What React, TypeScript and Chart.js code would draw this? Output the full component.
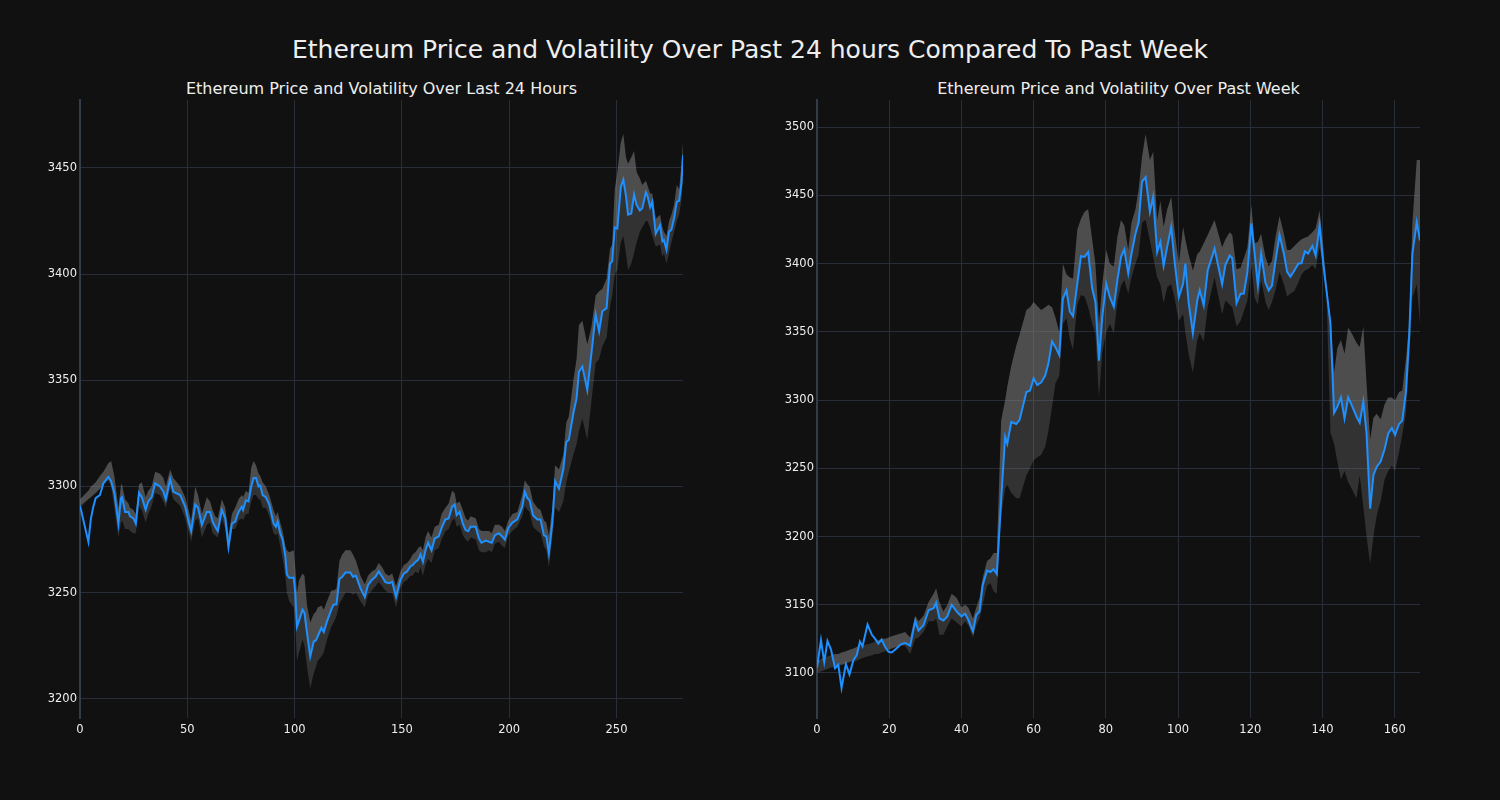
import React, { useEffect, useRef } from "react";
import { Chart, registerables } from "chart.js";
Chart.register(...registerables);

// ---------- Left: last 24 hours ----------
const leftX = [
  0, 3.9, 5.1, 6.2, 7.3, 9.3, 10.9, 13.2, 14.5, 16,
  17.9, 19.1, 19.6, 21, 22.6, 23.3, 24.9, 26, 27.5, 28.8,
  30.6, 31.8, 33.4, 35, 37.3, 38.9, 40, 42, 43.5, 46.7,
  49, 50.6, 51.8, 53.7, 55, 56.8, 59.1, 60.6, 61.8, 63,
  64.2, 66.1, 67.7, 69.2, 70.8, 72.3, 73.9, 75.4, 76, 77.3,
  78.5, 79.8, 80.9, 82, 83.2, 84, 85.1, 86.6, 88.2, 90.2,
  91.3, 92.1, 93.3, 94.4, 95.7, 96.4, 97.5, 99.6, 100.3, 101.1,
  102.1, 103.7, 104.6, 105.8, 107.3, 108.9, 109.9, 110.8, 112.5, 113.6,
  115.1, 117.1, 118.2, 119.5, 120.9, 122.2, 123.7, 126, 127.2, 128.6,
  130.7, 132.7, 134.2, 136, 137.7, 139.2, 140.8, 142.3, 143.9, 145.5,
  147.3, 149.3, 150.9, 152.4, 154, 155, 156.3, 157.6, 158.7, 159.8,
  161, 162.2, 163.8, 165.3, 167.2, 168.5, 170.3, 171.8, 173.4, 174.6,
  175.5, 176.9, 178.4, 179.7, 180.9, 182, 184.4, 185.9, 187.1, 189.1,
  190.6, 191.9, 193.3, 195.2, 196.7, 198, 199.6, 201.5, 203.8, 206.1,
  207.3, 208.5, 209.5, 211.1, 213.1, 214.6, 216.2, 217.3, 218.5, 220.1,
  221.4, 223.2, 225.2, 226.6, 227.8, 229.9, 231.4, 232.5, 234.1, 236.4,
  238.3, 240.3, 241.9, 243.4, 245.4, 247, 248, 249.2, 250.4, 252,
  253.2, 254.4, 255.4, 256.9, 258.2, 259.4, 260.9, 262, 263.7, 264.4,
  265.7, 266.7, 268.3, 270.3, 271.4, 272.1, 273.3, 274.5, 275.6, 276.9,
  278.1, 279.2, 280.3, 281,
];
const leftPrice = [
  3291, 3274, 3285, 3290.5, 3294.5, 3296, 3301.5, 3304.5, 3302.5, 3297,
  3282.5, 3294.5, 3295, 3288, 3288, 3286, 3285, 3282.5, 3297, 3295,
  3289, 3293, 3295, 3301.5, 3300, 3297.5, 3294, 3303.5, 3297.5, 3296,
  3290.5, 3283.5, 3279, 3291.5, 3290, 3282, 3288, 3288, 3283.5, 3281,
  3279, 3289, 3285, 3271.5, 3282.5, 3283.5, 3288, 3290.5, 3289, 3293.5,
  3293, 3300, 3304, 3304, 3300, 3300.5, 3296, 3295, 3291.5, 3282.5,
  3281, 3283.5, 3278, 3275, 3267, 3258.5, 3257, 3257, 3250, 3234,
  3237, 3242, 3240.5, 3231, 3220, 3227, 3227.5, 3229.5, 3233.5, 3231.5,
  3236.5, 3242, 3244.5, 3244.5, 3256.5, 3257.5, 3259.5, 3259.5, 3257.5, 3258,
  3252, 3248, 3253.5, 3256, 3257.5, 3260, 3257.5, 3255, 3254.5, 3255,
  3248, 3256, 3259, 3260, 3262.5, 3263, 3264.5, 3265.5, 3268, 3264.5,
  3270, 3273.5, 3270, 3275.5, 3276.5, 3280.5, 3284.5, 3285, 3290.5, 3291.5,
  3286.5, 3288, 3282.5, 3279.5, 3279, 3281, 3281, 3275.5, 3273.5, 3274.5,
  3274, 3273.5, 3277, 3278, 3276.5, 3275, 3280.5, 3283, 3284.5, 3290.5,
  3297.5, 3294.5, 3293.5, 3286.5, 3284.5, 3284.5, 3277, 3276.5, 3268.5, 3283,
  3302.5, 3299, 3308, 3321, 3322, 3334.5, 3341.5, 3354, 3356.5, 3345.5,
  3362.5, 3381, 3373, 3382.5, 3384, 3405, 3406, 3422, 3421.5, 3441,
  3444.5, 3437, 3428, 3428.5, 3437.5, 3432.5, 3430, 3431, 3438.5, 3437,
  3431.5, 3434, 3419, 3423, 3415.5, 3416, 3411.5, 3420, 3421, 3426.5,
  3434, 3434.5, 3443, 3456,
];
const leftUpper = [
  3294, 3298, 3300, 3301, 3302, 3305, 3307, 3311, 3312, 3305,
  3290, 3301, 3301, 3294, 3292, 3290, 3289, 3287, 3301, 3302,
  3295, 3298, 3300, 3307, 3306, 3304, 3300, 3308, 3304, 3300,
  3295, 3289, 3284, 3300, 3296, 3287, 3295, 3293, 3289, 3286,
  3285, 3294, 3290, 3277, 3287, 3290, 3294, 3296, 3295, 3298,
  3297, 3309, 3312, 3310, 3306, 3305, 3302, 3300, 3296, 3289,
  3286, 3288, 3283, 3279, 3272, 3270, 3269, 3270, 3262, 3250,
  3256, 3259, 3258, 3244, 3236, 3240, 3241, 3243, 3244, 3242,
  3246, 3251, 3251, 3252, 3265, 3268, 3270, 3270, 3268, 3265,
  3258, 3254, 3258, 3260, 3261, 3264, 3262, 3259, 3258, 3259,
  3253, 3260, 3263, 3264, 3266, 3268, 3269, 3271, 3272, 3270,
  3276, 3279, 3276, 3281, 3282, 3287, 3290, 3292, 3298, 3297,
  3292, 3293, 3289, 3285, 3284, 3286, 3285, 3280, 3279, 3279,
  3279, 3278, 3282, 3282, 3281, 3279, 3284, 3287, 3288, 3296,
  3303, 3301, 3300, 3293, 3290, 3289, 3284, 3283, 3277, 3290,
  3310, 3308, 3315, 3330, 3333, 3350, 3360, 3376, 3378, 3367,
  3375, 3390, 3392, 3393, 3398, 3412, 3414, 3440, 3448, 3462,
  3466, 3455, 3452, 3455, 3458, 3448, 3445, 3442, 3444, 3442,
  3438, 3438, 3426, 3428, 3422, 3420, 3418, 3425, 3428, 3433,
  3442, 3440, 3452, 3462,
];
const leftLower = [
  3290, 3294, 3295, 3296, 3297, 3299, 3301, 3303, 3300, 3290,
  3276, 3283, 3284, 3280, 3280, 3279, 3278, 3278, 3291, 3289,
  3283, 3287, 3291, 3297, 3296, 3293, 3290, 3299, 3294, 3291,
  3285, 3279, 3274, 3284, 3285, 3276, 3282, 3283, 3278, 3277,
  3276, 3285, 3280, 3268, 3280, 3280, 3284, 3285, 3284, 3287,
  3287, 3293, 3296, 3296, 3294, 3294, 3290, 3290, 3286, 3278,
  3277, 3278, 3272, 3266, 3258, 3250, 3246, 3243, 3236, 3218,
  3222, 3228, 3225, 3215, 3205, 3212, 3215, 3218, 3220, 3222,
  3228, 3234, 3236, 3239, 3245, 3247, 3250, 3250, 3249, 3250,
  3246, 3243, 3249, 3251, 3253, 3255, 3253, 3251, 3250, 3250,
  3243, 3252, 3255, 3256, 3258, 3258, 3260, 3259, 3262, 3258,
  3263, 3266, 3264, 3270, 3271, 3275, 3279, 3280, 3284, 3285,
  3281, 3282, 3277, 3275, 3274, 3276, 3275, 3270, 3269, 3269,
  3270, 3269, 3273, 3274, 3272, 3271, 3277, 3279, 3281, 3286,
  3291, 3289, 3288, 3281, 3279, 3278, 3272, 3270, 3262, 3276,
  3290, 3288, 3293, 3302, 3307, 3315, 3320, 3326, 3332, 3322,
  3340, 3358, 3360, 3366, 3370, 3385, 3390, 3400, 3402, 3415,
  3418, 3410, 3402, 3405, 3410, 3415, 3420, 3422, 3425, 3425,
  3422, 3418, 3413, 3414, 3408, 3410, 3405, 3410, 3415, 3420,
  3425, 3428, 3435, 3445,
];
const leftXTicks = [0, 50, 100, 150, 200, 250];
const leftYTicks = [3200, 3250, 3300, 3350, 3400, 3450];

// ---------- Right: past week ----------
const rightX = [
  0, 1.1, 2.0, 2.9, 3.9, 5.0, 5.9, 6.8, 8.0, 9.0,
  10.1, 11.0, 11.9, 12.6, 14.0, 15.2, 16.1, 17.0, 17.9, 18.9,
  19.8, 20.7, 22.0, 23.2, 24.4, 25.8, 27.2, 28.1, 29.5, 30.9,
  32.3, 33.0, 33.9, 35.0, 36.1, 37.3, 38.7, 40.0, 41.0, 41.9,
  43.2, 44.1, 45.0, 45.9, 47.1, 48.0, 48.9, 49.8, 51.0, 52.1,
  52.7, 53.8, 55.2, 56.1, 58.0, 59.0, 60.0, 61.0, 62.1, 63.2,
  64.1, 65.1, 66.0, 67.1, 68.1, 69.1, 70.0, 70.9, 72.1, 73.1,
  74.1, 75.1, 76.2, 77.1, 78.1, 79.0, 80.1, 81.1, 82.2, 83.2,
  84.2, 85.1, 86.2, 87.1, 88.2, 89.1, 90.0, 91.0, 92.2, 93.1,
  94.2, 95.1, 96.0, 97.0, 98.1, 99.0, 100.2, 101.4, 102.0, 102.9,
  104.1, 105.3, 106.0, 107.1, 108.2, 110.1, 112.2, 113.1, 114.3, 115.0,
  116.2, 117.3, 118.2, 119.2, 120.3, 121.2, 122.1, 123.0, 124.2, 125.1,
  126.0, 127.0, 128.1, 129.3, 130.2, 131.1, 132.2, 133.3, 134.2, 135.1,
  136.0, 137.2, 138.1, 139.2, 140.2, 141.1, 142.2, 143.2, 144.1, 145.1,
  146.1, 147.1, 148.3, 149.4, 150.3, 151.3, 152.2, 153.2, 154.1, 155.0,
  156.1, 157.2, 158.2, 159.2, 160.1, 161.2, 162.1, 163.1, 164.0, 164.9,
  166.1, 167.0,
];
const rightPrice = [
  3104, 3124, 3108, 3123.5, 3117, 3103.5, 3106, 3089, 3106.5, 3099,
  3109.5, 3113, 3123, 3119.5, 3135.5, 3128, 3125, 3121.5, 3124.5, 3119,
  3115.5, 3115, 3118, 3121, 3122, 3120, 3138, 3131, 3135, 3146,
  3147.5, 3151.5, 3140, 3138.5, 3141.5, 3150, 3145, 3141.5, 3143.5, 3139,
  3130.5, 3142.5, 3145, 3164.5, 3175, 3174, 3176, 3172.5, 3227, 3273,
  3268, 3284, 3282.5, 3285.5, 3306, 3307, 3316, 3311, 3313, 3318,
  3327, 3343, 3339, 3333, 3374.5, 3380.5, 3365, 3361.5, 3385.5, 3405.5,
  3405, 3408.5, 3382, 3372, 3329, 3361, 3385.5, 3375.5, 3368.5, 3388,
  3405, 3410.5, 3393, 3407.5, 3422, 3430.5, 3460, 3463.5, 3438, 3449,
  3408.5, 3416, 3398.5, 3412.5, 3427, 3402.5, 3375.5, 3385.5, 3400, 3372,
  3349, 3373, 3380.5, 3369.5, 3395, 3411, 3385, 3399, 3406, 3404,
  3371, 3378, 3378, 3394, 3429.5, 3407.5, 3384, 3407.5, 3386, 3380.5,
  3384, 3402.5, 3421, 3407.5, 3394, 3390.5, 3395, 3400, 3400.5, 3409,
  3407.5, 3413, 3406, 3428, 3400, 3380.5, 3356, 3290.5, 3295, 3302,
  3286.5, 3302, 3295, 3288, 3283.5, 3299, 3275.5, 3220.5, 3245, 3251,
  3255, 3264, 3275.5, 3279.5, 3274.5, 3282.5, 3285, 3306, 3346.5, 3407.5,
  3430.5, 3417,
];
const rightUpper = [
  3108, 3110, 3111, 3112, 3113, 3114, 3114, 3115, 3116, 3117,
  3118, 3119, 3120, 3120, 3121, 3122, 3123, 3124, 3125, 3125,
  3126, 3127, 3128, 3129, 3130, 3126, 3142, 3138, 3142, 3152,
  3158, 3162, 3152, 3145, 3150, 3158, 3155, 3148, 3150, 3148,
  3140, 3148, 3155, 3170, 3182, 3184, 3188, 3188, 3285, 3300,
  3310, 3325, 3340, 3348, 3366, 3368, 3372, 3369, 3366, 3368,
  3370, 3368, 3361, 3350, 3400, 3392, 3390, 3389, 3425, 3433,
  3438, 3440, 3418, 3400, 3356, 3385, 3410, 3400, 3398, 3420,
  3432, 3428, 3410, 3430, 3440, 3455, 3478, 3495, 3476, 3482,
  3432, 3446, 3427, 3440, 3449, 3425, 3400, 3427, 3418, 3407,
  3395, 3407, 3409, 3415, 3421, 3432, 3412, 3418, 3423, 3421,
  3396, 3397, 3404, 3412, 3443, 3415, 3416, 3422, 3405, 3398,
  3402, 3420, 3435, 3422, 3410, 3410, 3413, 3416, 3418, 3419,
  3420, 3423, 3426, 3439, 3412, 3385, 3359, 3320, 3338, 3344,
  3334, 3353, 3348, 3342, 3339, 3354, 3312, 3271, 3287, 3290,
  3286, 3297, 3302, 3302, 3300, 3306, 3307, 3330, 3356, 3430,
  3476, 3476,
];
const rightLower = [
  3100, 3101, 3102, 3103, 3104, 3104, 3105, 3106, 3107, 3108,
  3108, 3109, 3110, 3111, 3112, 3113, 3114, 3114, 3115, 3116,
  3117, 3118, 3119, 3120, 3120, 3114, 3125, 3126, 3130, 3138,
  3138, 3140, 3128, 3128, 3134, 3140, 3137, 3134, 3138, 3135,
  3126, 3135, 3140, 3150, 3164, 3166, 3160, 3158, 3215, 3235,
  3238, 3232, 3228, 3228, 3245, 3250, 3256, 3258, 3260, 3266,
  3278, 3295, 3312, 3318, 3356, 3360, 3345, 3337, 3370, 3377,
  3376, 3368, 3356, 3349, 3302, 3335, 3350, 3356, 3349, 3372,
  3384, 3388, 3378, 3390, 3400, 3407, 3430, 3432, 3417, 3405,
  3390, 3385, 3371, 3383, 3385, 3375, 3358, 3363, 3350, 3334,
  3320, 3344, 3349, 3343, 3368, 3390, 3363, 3373, 3370, 3368,
  3354, 3358, 3365, 3373, 3398, 3375, 3370, 3388, 3372, 3366,
  3372, 3381, 3394, 3385, 3376, 3378, 3380, 3386, 3392, 3395,
  3396, 3399, 3396, 3412, 3398, 3378, 3276, 3268, 3255, 3242,
  3248, 3240, 3234, 3228, 3245, 3222, 3200, 3180, 3200, 3215,
  3226, 3242, 3248, 3252, 3248, 3262, 3275, 3290, 3330, 3375,
  3385, 3356,
];
const rightXTicks = [0, 20, 40, 60, 80, 100, 120, 140, 160];
const rightYTicks = [3100, 3150, 3200, 3250, 3300, 3350, 3400, 3450, 3500];

const mainTitle = "Ethereum Price and Volatility Over Past 24 hours Compared To Past Week";
const leftTitle = "Ethereum Price and Volatility Over Last 24 Hours";
const rightTitle = "Ethereum Price and Volatility Over Past Week";

const FONT = "'DejaVu Sans', sans-serif";
const GRID = "#272e38";
const SPINE = "#333c49";
const TEXT = "#eeeeee";

function makeConfig(
  xs: number[], price: number[], upper: number[], lower: number[],
  xMax: number, yMin: number, yMax: number, xTicks: number[], yTicks: number[],
  yAxisWidth: number, padRight: number
): any {
  const pts = (arr: number[]) => arr.map((v, i) => ({ x: xs[i], y: v }));
  const mid = price.map((v, i) => Math.min(upper[i], Math.max(lower[i], v)));
  const tickFont = { family: FONT, size: 11.5 };
  const plain = (v: any) => String(v);
  return {
    type: "line",
    data: {
      datasets: [
        { data: pts(price), borderColor: "#1e90ff", borderWidth: 2, pointRadius: 0, fill: false, tension: 0 },
        { data: pts(upper), borderColor: "rgba(0,0,0,0)", borderWidth: 0, pointRadius: 0, fill: 2, backgroundColor: "rgba(128,128,128,0.55)" },
        { data: pts(mid), borderColor: "rgba(0,0,0,0)", borderWidth: 0, pointRadius: 0, fill: 3, backgroundColor: "rgba(128,128,128,0.3)" },
        { data: pts(lower), borderColor: "rgba(0,0,0,0)", borderWidth: 0, pointRadius: 0, fill: false },
      ],
    },
    options: {
      responsive: false,
      animation: false,
      events: [],
      layout: { padding: { top: 30, right: padRight, left: 0, bottom: 0 } },
      plugins: {
        legend: { display: false },
        tooltip: { enabled: false },
        filler: { drawTime: "beforeDatasetsDraw" },
      },
      scales: {
        x: {
          type: "linear",
          min: 0,
          max: xMax,
          afterBuildTicks: (s: any) => { s.ticks = xTicks.map((v) => ({ value: v })); },
          afterFit: (s: any) => { s.height = 32; },
          grid: { color: GRID, lineWidth: 1, drawTicks: false },
          border: { display: false },
          ticks: { color: TEXT, font: tickFont, padding: 5, maxRotation: 0, autoSkip: false, callback: plain },
        },
        y: {
          type: "linear",
          min: yMin,
          max: yMax,
          afterBuildTicks: (s: any) => { s.ticks = yTicks.map((v) => ({ value: v })); },
          afterFit: (s: any) => { s.width = yAxisWidth; },
          grid: { color: GRID, lineWidth: 1, drawTicks: false },
          border: { display: true, color: SPINE, width: 2 },
          ticks: { color: TEXT, font: tickFont, padding: 3, autoSkip: false, callback: plain },
        },
      },
    },
  };
}

function ChartCanvas(props: { cfg: () => any; left: number }) {
  const ref = useRef<HTMLCanvasElement | null>(null);
  useEffect(() => {
    if (!ref.current) return;
    const chart = new Chart(ref.current, props.cfg());
    return () => chart.destroy();
  }, []);
  return (
    <canvas
      ref={ref}
      width={750}
      height={680}
      style={{ position: "absolute", left: props.left, top: 70, width: 750, height: 680 }}
    />
  );
}

export default function App() {
  const titleStyle = (size: number, top: number, cx: number): React.CSSProperties => ({
    position: "absolute",
    left: cx - 600,
    width: 1200,
    top,
    textAlign: "center",
    fontFamily: FONT,
    fontSize: size,
    lineHeight: `${size}px`,
    color: TEXT,
    whiteSpace: "nowrap",
  });
  return (
    <div style={{ position: "fixed", left: 0, top: 0, width: 1500, height: 800, background: "#111111", overflow: "hidden" }}>
      <div style={titleStyle(25, 37.2, 750)}>{mainTitle}</div>
      <div style={titleStyle(16, 81.3, 381.5)}>{leftTitle}</div>
      <div style={titleStyle(16, 81.3, 1118.5)}>{rightTitle}</div>
      <ChartCanvas
        left={0}
        cfg={() => makeConfig(leftX, leftPrice, leftUpper, leftLower, 281, 3191, 3482, leftXTicks, leftYTicks, 80, 67)}
      />
      <ChartCanvas
        left={750}
        cfg={() => makeConfig(rightX, rightPrice, rightUpper, rightLower, 167, 3067, 3520, rightXTicks, rightYTicks, 67, 80)}
      />
    </div>
  );
}
